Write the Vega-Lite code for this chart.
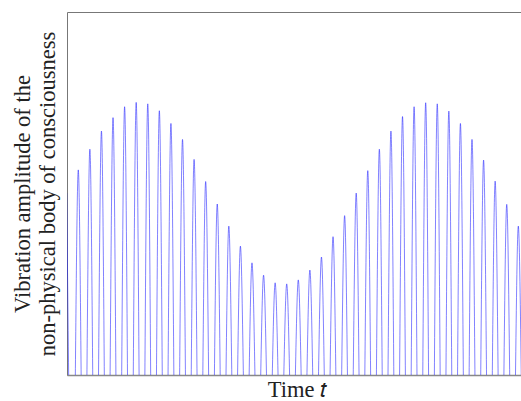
{
  "$schema": "https://vega.github.io/schema/vega-lite/v6.json",
  "autosize": {"type": "none"},
  "padding": {"left": 67, "top": 12, "right": 0, "bottom": 26},
  "width": 460,
  "height": 363,
  "background": "white",
  "config": {
    "view": {"stroke": "#777", "strokeWidth": 1},
    "font": "Liberation Serif"
  },
  "data": {"values": [
    {"t": 0, "v": 0.501}, {"t": 0.5, "v": -0.53},
    {"t": 1, "v": 0.565}, {"t": 1.5, "v": -0.59},
    {"t": 2, "v": 0.622}, {"t": 2.5, "v": -0.65},
    {"t": 3, "v": 0.672}, {"t": 3.5, "v": -0.69},
    {"t": 4, "v": 0.709}, {"t": 4.5, "v": -0.72},
    {"t": 5, "v": 0.739}, {"t": 5.5, "v": -0.745},
    {"t": 6, "v": 0.751}, {"t": 6.5, "v": -0.75},
    {"t": 7, "v": 0.747}, {"t": 7.5, "v": -0.74},
    {"t": 8, "v": 0.728}, {"t": 8.5, "v": -0.71},
    {"t": 9, "v": 0.693}, {"t": 9.5, "v": -0.67},
    {"t": 10, "v": 0.649}, {"t": 10.5, "v": -0.62},
    {"t": 11, "v": 0.594}, {"t": 11.5, "v": -0.56},
    {"t": 12, "v": 0.533}, {"t": 12.5, "v": -0.5},
    {"t": 13, "v": 0.471}, {"t": 13.5, "v": -0.44},
    {"t": 14, "v": 0.41}, {"t": 14.5, "v": -0.38},
    {"t": 15, "v": 0.355}, {"t": 15.5, "v": -0.33},
    {"t": 16, "v": 0.309}, {"t": 16.5, "v": -0.29},
    {"t": 17, "v": 0.275}, {"t": 17.5, "v": -0.265},
    {"t": 18, "v": 0.254}, {"t": 18.5, "v": -0.25},
    {"t": 19, "v": 0.251}, {"t": 19.5, "v": -0.255},
    {"t": 20, "v": 0.262}, {"t": 20.5, "v": -0.275},
    {"t": 21, "v": 0.289}, {"t": 21.5, "v": -0.305},
    {"t": 22, "v": 0.325}, {"t": 22.5, "v": -0.35},
    {"t": 23, "v": 0.381}, {"t": 23.5, "v": -0.41},
    {"t": 24, "v": 0.439}, {"t": 24.5, "v": -0.47},
    {"t": 25, "v": 0.501}, {"t": 25.5, "v": -0.53},
    {"t": 26, "v": 0.563}, {"t": 26.5, "v": -0.59},
    {"t": 27, "v": 0.622}, {"t": 27.5, "v": -0.65},
    {"t": 28, "v": 0.672}, {"t": 28.5, "v": -0.69},
    {"t": 29, "v": 0.712}, {"t": 29.5, "v": -0.725},
    {"t": 30, "v": 0.739}, {"t": 30.5, "v": -0.745},
    {"t": 31, "v": 0.75}, {"t": 31.5, "v": -0.75},
    {"t": 32, "v": 0.747}, {"t": 32.5, "v": -0.74},
    {"t": 33, "v": 0.727}, {"t": 33.5, "v": -0.71},
    {"t": 34, "v": 0.693}, {"t": 34.5, "v": -0.67},
    {"t": 35, "v": 0.649}, {"t": 35.5, "v": -0.62},
    {"t": 36, "v": 0.592}, {"t": 36.5, "v": -0.56},
    {"t": 37, "v": 0.534}, {"t": 37.5, "v": -0.5},
    {"t": 38, "v": 0.47}, {"t": 38.5, "v": -0.44},
    {"t": 39, "v": 0.41}, {"t": 39.5, "v": -0.38},
    {"t": 40, "v": 0.35}, {"t": 40.5, "v": -0.32}
  ]},
  "mark": {"type": "line", "interpolate": "monotone", "clip": true, "color": "#1a1aff", "strokeWidth": 0.55},
  "encoding": {
    "x": {
      "field": "t", "type": "quantitative",
      "scale": {"domain": [0.025, 39.75], "nice": false, "zero": false},
      "axis": {
        "title": "Time 𝑡", "labels": false, "ticks": false, "grid": false,
        "domainColor": "#888", "domainWidth": 1.5,
        "titleFont": "Liberation Serif", "titleFontSize": 22.5, "titleFontWeight": "normal",
        "titleColor": "#222", "titlePadding": 3
      }
    },
    "y": {
      "field": "v", "type": "quantitative",
      "scale": {"domain": [0, 1], "nice": false},
      "axis": {
        "title": ["Vibration amplitude of the", "non-physical body of consciousness"],
        "labels": false, "ticks": false, "grid": false, "domain": false,
        "titleFont": "Liberation Serif", "titleFontSize": 22.5, "titleFontWeight": "normal",
        "titleColor": "#222", "titlePadding": 8, "titleLineHeight": 25
      }
    }
  }
}
